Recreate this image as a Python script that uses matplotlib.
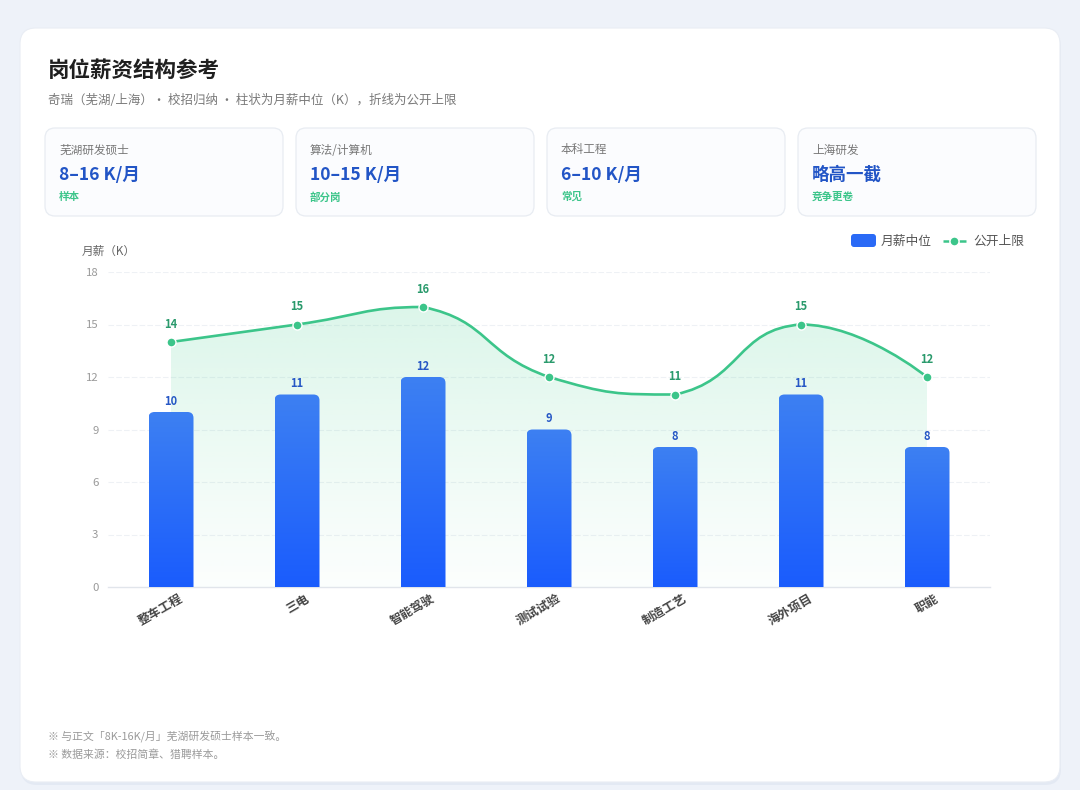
import numpy as np
import matplotlib
matplotlib.use("Agg")
import matplotlib.pyplot as plt
import matplotlib.transforms as mtrans
from matplotlib.patches import FancyBboxPatch, PathPatch
from matplotlib.path import Path
from matplotlib.colors import LinearSegmentedColormap, to_rgb

plt.rcParams['font.family'] = ['Noto Sans CJK SC', 'DejaVu Sans']

# chart data
categories = ['整车工程', '三电', '智能驾驶', '测试试验', '制造工艺', '海外项目', '职能']
median_pay = [10, 11, 12, 9, 8, 11, 8]
upper_pay = [14, 15, 16, 12, 11, 15, 12]
y_ticks = [0, 3, 6, 9, 12, 15, 18]

# kpi cards
kpi_labels = ['芜湖研发硕士', '算法/计算机', '本科工程', '上海研发']
kpi_values = ['8–16 K/月', '10–15 K/月', '6–10 K/月', '略高一截']
kpi_notes = ['样本', '部分岗', '常见', '竞争更卷']

title = '岗位薪资结构参考'
subtitle = '奇瑞（芜湖/上海）· 校招归纳 · 柱状为月薪中位（K），折线为公开上限'
footnotes = ['※ 与正文「8K-16K/月」芜湖研发硕士样本一致。', '※ 数据来源：校招简章、猎聘样本。']

BLUE_TOP = '#3d80f2'
BLUE_BOT = '#1a5cfd'
GREEN = '#3cc58a'
GREEN_TXT = '#2a9a6c'
BLUE_TXT = '#2657c5'

W, H = 1080, 790
fig = plt.figure(figsize=(W / 100, H / 100), dpi=100)
fig.patch.set_facecolor('#eef2f9')

# background axes in pixel coords
bg = fig.add_axes([0, 0, 1, 1])
bg.set_xlim(0, W)
bg.set_ylim(H, 0)
bg.axis('off')

# card shadow + card
bg.add_patch(FancyBboxPatch((21, 31), 1040, 754, boxstyle='round,pad=0,rounding_size=16',
                            fc='#dde3ef', ec='none', alpha=0.6))
bg.add_patch(FancyBboxPatch((20, 28), 1040, 754, boxstyle='round,pad=0,rounding_size=16',
                            fc='white', ec='#e9edf4', lw=0.8))

bg.text(48, 70, title, fontsize=15.5, fontweight='bold', color='#1f1f1f', va='center')
bg.text(48, 100, subtitle, fontsize=9.0, color='#7a7a7a', va='center')

# kpi cards
card_x = [45, 296, 547, 798]
for i in range(4):
    x0 = card_x[i]
    bg.add_patch(FancyBboxPatch((x0, 128), 238, 88, boxstyle='round,pad=0,rounding_size=10',
                                fc='#fbfcfe', ec='#e8ecf2', lw=0.9))
    bg.text(x0 + 14, 150, kpi_labels[i], fontsize=8.4, color='#777777', va='center')
    bg.text(x0 + 14, 175, kpi_values[i], fontsize=12.6, fontweight='bold', color='#2255c6', va='center')
    bg.text(x0 + 14, 197, kpi_notes[i], fontsize=7.6, fontweight='bold', color='#3cc58a', va='center')

# legend
bg.add_patch(FancyBboxPatch((851, 234), 25, 13, boxstyle='round,pad=0,rounding_size=3',
                            fc='#2a6af6', ec='none'))
bg.text(881, 241, '月薪中位', fontsize=9.2, color='#555555', va='center')
bg.plot([943, 949], [241, 241], color=GREEN, lw=1.8, solid_capstyle='butt')
bg.plot([959, 966], [241, 241], color=GREEN, lw=1.8, solid_capstyle='butt')
bg.plot([954], [241], 'o', ms=6.5, color=GREEN, mec='white', mew=1.0)
bg.text(973, 241, '公开上限', fontsize=9.2, color='#555555', va='center')

bg.text(82, 251, '月薪（K）', fontsize=8.4, color='#666666', va='center')

for j, note in enumerate(footnotes):
    bg.text(48, 737 + j * 18, note, fontsize=7.8, color='#9a9a9a', va='center')

# main chart axes
left, right, top, bottom = 108, 990, 272, 587
ax = fig.add_axes([left / W, 1 - bottom / H, (right - left) / W, (bottom - top) / H])
ax.set_facecolor('none')
x = np.arange(len(categories))
ax.set_xlim(-0.5, len(categories) - 0.5)
ax.set_ylim(0, 18)

for s in ['top', 'right', 'left']:
    ax.spines[s].set_visible(False)
ax.spines['bottom'].set_color('#e1e5eb')
ax.spines['bottom'].set_linewidth(1.0)
ax.set_yticks(y_ticks)
ax.tick_params(axis='y', length=0, labelsize=8.2, labelcolor='#9a9a9a', pad=7)
ax.set_xticks(x)
ax.set_xticklabels(categories, rotation=30, ha='right', va='center', rotation_mode='anchor',
                   fontsize=8.8, fontweight='bold', color='#444444')
ax.tick_params(axis='x', length=0, pad=9)
shift = mtrans.ScaledTranslation(11 / 100, 2 / 100, fig.dpi_scale_trans)
for lab in ax.get_xticklabels():
    lab.set_transform(lab.get_transform() + shift)
for y in y_ticks[1:]:
    ax.axhline(y, color='#eef1f5', lw=0.8, ls=(0, (5, 2)), zorder=0)

# pixel/data ratio for rounding
px_x = (right - left) / (len(categories))
px_y = (bottom - top) / 18.0
aspect = (1 / px_y) / (1 / px_x)

# smooth curve through upper values (echarts-like bezier), computed in pixel space
pts = ax.transData.transform(np.column_stack([x, upper_pay]))
n = len(pts)
smooth = 0.5
verts = [pts[0]]
codes = [Path.MOVETO]
cps_out = [pts[0].copy()]
cps_in = [None]
for i in range(1, n - 1):
    p, pv, nx = pts[i], pts[i - 1], pts[i + 1]
    v = (nx - pv) * smooth
    lp = np.hypot(*(p - pv))
    ln = np.hypot(*(nx - p))
    r = ln / (ln + lp)
    cin = p - v * (1 - r)
    cout = p + v * r
    cin[1] = min(max(cin[1], min(pv[1], p[1])), max(pv[1], p[1]))
    cout[1] = min(max(cout[1], min(nx[1], p[1])), max(nx[1], p[1]))
    cps_in.append(cin)
    cps_out.append(cout)
cps_in.append(pts[-1].copy())
for i in range(1, n):
    verts += [cps_out[i - 1], cps_in[i], pts[i]]
    codes += [Path.CURVE4] * 3
verts = ax.transData.inverted().transform(np.array(verts))
curve = Path(verts, codes)

# gradient area under curve
area_verts = np.vstack([verts, [[x[-1], 0], [x[0], 0], [x[0], upper_pay[0]]]])
area_codes = codes + [Path.LINETO, Path.LINETO, Path.CLOSEPOLY]
area_patch = PathPatch(Path(area_verts, area_codes), fc='none', ec='none', transform=ax.transData)
ax.add_patch(area_patch)
g = np.linspace(0, 1, 256)
rgb = np.array(to_rgb('#5fd6a0'))
img = np.zeros((256, 1, 4))
img[..., :3] = rgb
img[:, 0, 3] = 0.2 * (1 - g) ** 1.1 + 0.02
im = ax.imshow(img, extent=(x[0], x[-1], 0, max(upper_pay)), origin='upper', aspect='auto',
               interpolation='bilinear', zorder=1)
im.set_clip_path(area_patch)

# bars with gradient and rounded top
bar_w = 45 / px_x
bar_cmap = LinearSegmentedColormap.from_list('bars', [BLUE_BOT, BLUE_TOP])
grad = np.linspace(1, 0, 256).reshape(-1, 1)
bars = ax.bar(x, median_pay, width=bar_w, color='none', zorder=2)
for rect in bars:
    bx, bw, bh = rect.get_x(), rect.get_width(), rect.get_height()
    patch = FancyBboxPatch((bx, -1), bw, bh + 1, boxstyle='round,pad=0,rounding_size=%f' % (6 / px_x),
                           mutation_aspect=aspect, fc='none', ec='none', transform=ax.transData)
    ax.add_patch(patch)
    bim = ax.imshow(grad, cmap=bar_cmap, vmin=0, vmax=1,
                    extent=(bx, bx + bw, 0, bh), origin='upper', aspect='auto', zorder=3)
    bim.set_clip_path(patch)
    ax.annotate(str(int(bh)), (rect.get_x() + bw / 2, bh), xytext=(0, 3), textcoords='offset points',
                ha='center', va='bottom', fontsize=8, fontweight='bold', color=BLUE_TXT, zorder=5)

ax.add_patch(PathPatch(curve, fc='none', ec=GREEN, lw=1.9, zorder=4, transform=ax.transData))
ax.plot(x, upper_pay, 'o', ms=6.5, color=GREEN, mec='white', mew=1.0, zorder=5)
for xi, v in zip(x, upper_pay):
    ax.annotate(str(v), (xi, v), xytext=(0, 8), textcoords='offset points', ha='center', va='bottom',
                fontsize=8, fontweight='bold', color=GREEN_TXT, zorder=5)

ax.set_xlim(-0.5, len(categories) - 0.5)
ax.set_ylim(0, 18)

fig.savefig('out.png', dpi=100, facecolor=fig.get_facecolor())
